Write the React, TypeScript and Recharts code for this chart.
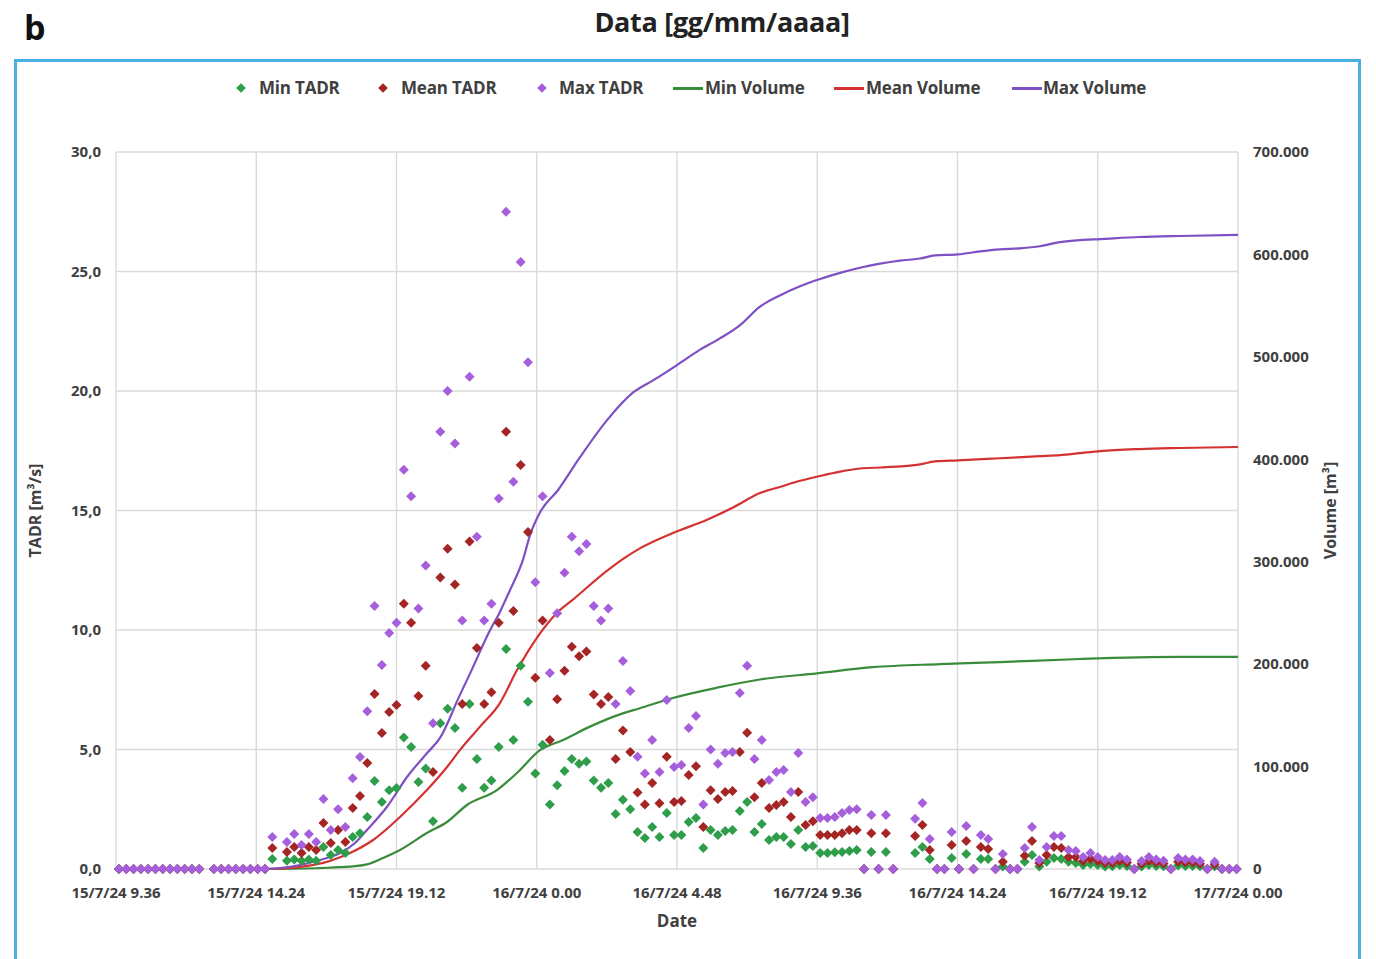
import React from 'react';
import { ComposedChart, Scatter, Line, XAxis, YAxis, CartesianGrid, Label } from 'recharts';

// Time of each TADR sample, hours after 15/7/24 9.36
const tadrTimes = [
  0.1, 0.35, 0.6, 0.85, 1.1, 1.35, 1.6, 1.85, 2.1, 2.35, 2.6, 2.85,
  3.35, 3.6, 3.85, 4.1, 4.35, 4.6, 4.85, 5.1,
  5.35,
  5.85, 6.1, 6.35, 6.6, 6.85, 7.1, 7.35, 7.6, 7.85,
  8.1, 8.35, 8.6, 8.85, 9.1, 9.35, 9.6, 9.85, 10.1, 10.35,
  10.6, 10.85, 11.1, 11.35, 11.6, 11.85, 12.1, 12.35, 12.6, 12.85,
  13.1, 13.35, 13.6, 13.85, 14.1, 14.35, 14.6, 14.85, 15.1, 15.35,
  15.6, 15.85, 16.1, 16.35, 16.6, 16.85, 17.1, 17.35, 17.6, 17.85,
  18.1, 18.35, 18.6, 18.85, 19.1, 19.35, 19.6, 19.85, 20.1, 20.35,
  20.6, 20.85, 21.1, 21.35, 21.6, 21.85, 22.1, 22.35, 22.6, 22.85,
  23.1, 23.35, 23.6, 23.85, 24.1, 24.35, 24.6, 24.85, 25.1, 25.35,
  25.6, 25.85, 26.1, 26.35, 26.6,
  27.35, 27.6, 27.85, 28.1, 28.35, 28.6, 28.85, 29.1, 29.35, 29.6,
  29.85, 30.1, 30.35, 30.6, 30.85, 31.1, 31.35, 31.6, 31.85, 32.1,
  32.35, 32.6, 32.85, 33.1, 33.35, 33.6, 33.85, 34.1, 34.35, 34.6,
  34.85, 35.1, 35.35, 35.6, 35.85, 36.1, 36.35, 36.6, 36.85, 37.1,
  37.35, 37.6, 37.85, 38.1, 38.35,
];

const maxTadr = [
  0, 0, 0, 0, 0, 0, 0, 0, 0, 0, 0, 0,
  0, 0, 0, 0, 0, 0, 0, 0,
  1.34,
  1.13, 1.46, 1.0, 1.46, 1.13, 2.93, 1.63, 2.5, 1.76,
  3.8, 4.69, 6.6, 11.0, 8.54, 9.87, 10.3, 16.7, 15.6, 10.9,
  12.7, 6.1, 18.3, 20.0, 17.8, 10.4, 20.6, 13.9, 10.4, 11.1,
  15.5, 27.5, 16.2, 25.4, 21.2, 12.0, 15.6, 8.2, 10.7, 12.4,
  13.9, 13.3, 13.6, 11.0, 10.4, 10.9, 6.9, 8.7, 7.45, 4.7,
  4.0, 5.4, 4.06, 7.07, 4.27, 4.35, 5.9, 6.4, 2.7, 5.0,
  4.4, 4.85, 4.9, 7.36, 8.5, 4.6, 5.4, 3.72, 4.06, 4.14,
  3.22, 4.85, 2.8, 3.0, 2.13, 2.13, 2.18, 2.34, 2.47, 2.5,
  0, 2.26, 0, 2.26, 0,
  2.1, 2.76, 1.26, 0, 0, 1.55, 0, 1.8, 0, 1.42,
  1.26, 0, 0.63, 0, 0, 0.88, 1.76, 0.38, 0.92, 1.38,
  1.38, 0.8, 0.75, 0.5, 0.67, 0.5, 0.38, 0.38, 0.5, 0.4,
  0, 0.33, 0.5, 0.4, 0.35, 0, 0.46, 0.4, 0.4, 0.33,
  0, 0.3, 0, 0, 0,
];

const meanTadr = [
  0, 0, 0, 0, 0, 0, 0, 0, 0, 0, 0, 0,
  0, 0, 0, 0, 0, 0, 0, 0,
  0.88,
  0.71, 0.92, 0.67, 0.92, 0.8, 1.92, 1.09, 1.63, 1.13,
  2.55, 3.05, 4.44, 7.32, 5.69, 6.57, 6.86, 11.1, 10.3, 7.24,
  8.5, 4.06, 12.2, 13.4, 11.9, 6.9, 13.7, 9.25, 6.9, 7.4,
  10.3, 18.3, 10.8, 16.9, 14.1, 8.0, 10.4, 5.4, 7.1, 8.3,
  9.3, 8.9, 9.1, 7.3, 6.9, 7.2, 4.6, 5.8, 4.9, 3.2,
  2.7, 3.6, 2.75, 4.7, 2.8, 2.85, 3.93, 4.3, 1.76, 3.3,
  2.93, 3.22, 3.26, 4.9, 5.7, 3.0, 3.6, 2.55, 2.68, 2.8,
  2.18, 3.22, 1.84, 2.0, 1.42, 1.42, 1.42, 1.5, 1.63, 1.63,
  0, 1.5, 0, 1.5, 0,
  1.38, 1.84, 0.8, 0, 0, 1.0, 0, 1.17, 0, 0.92,
  0.84, 0, 0.3, 0, 0, 0.55, 1.17, 0.25, 0.59, 0.92,
  0.88, 0.5, 0.5, 0.33, 0.42, 0.33, 0.25, 0.25, 0.33, 0.27,
  0, 0.22, 0.33, 0.27, 0.23, 0, 0.3, 0.27, 0.27, 0.22,
  0, 0.2, 0, 0, 0,
];

const minTadr = [
  0, 0, 0, 0, 0, 0, 0, 0, 0, 0, 0, 0,
  0, 0, 0, 0, 0, 0, 0, 0,
  0.42,
  0.35, 0.4, 0.35, 0.4, 0.35, 0.92, 0.59, 0.8, 0.67,
  1.34, 1.5, 2.18, 3.68, 2.8, 3.3, 3.39, 5.5, 5.1, 3.64,
  4.2, 2.0, 6.1, 6.7, 5.9, 3.4, 6.9, 4.6, 3.4, 3.7,
  5.1, 9.2, 5.4, 8.5, 7.0, 4.0, 5.2, 2.7, 3.5, 4.1,
  4.6, 4.4, 4.5, 3.7, 3.4, 3.6, 2.3, 2.9, 2.5, 1.55,
  1.3, 1.76, 1.34, 2.34, 1.42, 1.42, 1.97, 2.13, 0.88, 1.63,
  1.42, 1.59, 1.63, 2.43, 2.8, 1.55, 1.88, 1.21, 1.34, 1.34,
  1.05, 1.63, 0.92, 0.96, 0.67, 0.67, 0.7, 0.71, 0.75, 0.8,
  0, 0.71, 0, 0.71, 0,
  0.67, 0.92, 0.42, 0, 0, 0.46, 0, 0.63, 0, 0.42,
  0.42, 0, 0.1, 0, 0, 0.3, 0.59, 0.1, 0.3, 0.46,
  0.42, 0.3, 0.25, 0.17, 0.21, 0.17, 0.1, 0.12, 0.17, 0.13,
  0, 0.1, 0.17, 0.13, 0.12, 0, 0.15, 0.13, 0.13, 0.11,
  0, 0.1, 0, 0, 0,
];

// Cumulative volumes [m3]
const maxVolTimes = [5.0, 5.61, 6.3, 6.98, 7.67, 8.18, 8.59, 9.27, 9.96, 10.64, 11.09, 11.77, 12.12, 12.8, 13.14, 13.48, 13.93, 14.17, 14.51, 15.13, 15.88, 16.8, 17.69, 18.38, 19.2, 19.99, 20.67, 21.36, 22.04, 22.72, 23.41, 23.99, 24.78, 25.46, 26.15, 26.83, 27.52, 28.03, 28.82, 29.57, 30.25, 30.94, 31.62, 32.31, 32.99, 33.68, 35.04, 36.41, 38.4];
const maxVolume = [0, 1000, 3900, 8800, 15600, 25400, 38100, 60500, 89800, 113000, 128000, 170000, 191000, 233000, 251000, 272000, 302000, 326000, 348000, 370000, 402000, 438000, 465000, 477000, 492000, 507000, 518000, 531000, 549000, 560000, 569000, 575000, 582000, 587000, 591000, 594000, 596000, 599000, 600000, 603000, 605000, 606000, 608000, 612000, 614000, 615000, 617000, 618000, 619000];

const meanVolTimes = [5.27, 6.3, 7.32, 8.01, 8.8, 9.72, 10.64, 11.33, 11.77, 12.46, 13.14, 13.72, 14.41, 15.09, 15.64, 16.8, 17.32, 17.93, 19.06, 20.23, 21.12, 22.04, 22.72, 23.41, 23.99, 24.78, 25.46, 26.15, 26.83, 27.52, 28.03, 28.82, 30.25, 31.62, 32.31, 32.99, 33.68, 35.04, 36.41, 38.4];
const meanVolume = [0, 2000, 7800, 15600, 28300, 50800, 77100, 99600, 116000, 139000, 162000, 194000, 226000, 250000, 263000, 291000, 302000, 313000, 328000, 341000, 353000, 367000, 373000, 379000, 383000, 388000, 391000, 392000, 393000, 395000, 398000, 399000, 401000, 403000, 404000, 406000, 408000, 410000, 411000, 412000];

const minVolTimes = [5.27, 6.98, 8.0, 8.59, 9.14, 9.72, 10.64, 11.33, 12.01, 13.04, 13.72, 14.51, 15.3, 16.22, 17.15, 17.93, 19.06, 20.57, 22.04, 23.99, 25.91, 28.2, 30.25, 32.99, 36.41, 38.4];
const minVolume = [0, 1000, 2300, 4500, 10700, 18500, 35100, 45900, 62500, 77100, 93700, 116000, 126000, 139000, 150000, 157000, 167000, 177000, 185000, 191000, 197000, 200000, 202000, 205000, 207000, 207000];

const xTicks = [0, 4.8, 9.6, 14.4, 19.2, 24, 28.8, 33.6, 38.4];
const xTickLabels = ['15/7/24 9.36', '15/7/24 14.24', '15/7/24 19.12', '16/7/24 0.00', '16/7/24 4.48', '16/7/24 9.36', '16/7/24 14.24', '16/7/24 19.12', '17/7/24 0.00'];
const leftTicks = [0, 5, 10, 15, 20, 25, 30];
const rightTicks = [0, 100000, 200000, 300000, 400000, 500000, 600000, 700000];

const C = {
  minPt: '#2E9E4A',
  meanPt: '#A52424',
  maxPt: '#A65FDC',
  minLn: '#3A8C3A',
  meanLn: '#D43232',
  maxLn: '#7D50C4',
  text: '#404040',
  grid: '#DADADA',
};

const FONT = '"Open Sans", "DejaVu Sans", sans-serif';

const toPoints = (ts: number[], vs: number[]) => ts.map((t, i) => ({ t, v: vs[i] }));

const makeDiamond = (color: string) => (props: any) => {
  const { cx, cy } = props;
  if (cx == null || cy == null) return null;
  const r = 5;
  return <path d={`M${cx},${cy - r}L${cx + r},${cy}L${cx},${cy + r}L${cx - r},${cy}Z`} fill={color} />;
};

const legendItems = [
  { label: 'Min TADR', color: C.minPt, kind: 'diamond' },
  { label: 'Mean TADR', color: C.meanPt, kind: 'diamond' },
  { label: 'Max TADR', color: C.maxPt, kind: 'diamond' },
  { label: 'Min Volume', color: C.minLn, kind: 'line' },
  { label: 'Mean Volume', color: C.meanLn, kind: 'line' },
  { label: 'Max Volume', color: C.maxLn, kind: 'line' },
];
const legendMarkerX = [236, 378, 537, 673, 834, 1012];
const legendTextX = [259, 401, 559, 705, 866, 1043];

function ChartLegend() {
  const cy = 88;
  return (
    <>
      {legendItems.map((it, i) => (
        <React.Fragment key={it.label}>
          {it.kind === 'diamond' ? (
            <div style={{ position: 'absolute', left: legendMarkerX[i] + 1, top: cy - 4, width: 8, height: 8, background: it.color, transform: 'rotate(45deg) scale(0.85)' }} />
          ) : (
            <div style={{ position: 'absolute', left: legendMarkerX[i], top: cy - 1.5, width: 30, height: 3, background: it.color }} />
          )}
          <div style={{ position: 'absolute', left: legendTextX[i], top: cy - 12, lineHeight: '24px', fontSize: 17, fontWeight: 700, color: C.text, whiteSpace: 'nowrap', letterSpacing: -0.2 }}>
            {it.label}
          </div>
        </React.Fragment>
      ))}
    </>
  );
}

export default function App() {
  const minData = toPoints(tadrTimes, minTadr);
  const meanData = toPoints(tadrTimes, meanTadr);
  const maxData = toPoints(tadrTimes, maxTadr);
  const minVolData = toPoints(minVolTimes, minVolume);
  const meanVolData = toPoints(meanVolTimes, meanVolume);
  const maxVolData = toPoints(maxVolTimes, maxVolume);

  const tickStyle = { fill: C.text, fontSize: 15, fontWeight: 700, fontFamily: FONT };

  return (
    <div style={{ position: 'absolute', left: 0, top: 0, width: 1376, height: 959, background: '#fff', overflow: 'hidden', fontFamily: FONT }}>
      <div style={{ position: 'absolute', left: 24, top: 7, fontSize: 34, lineHeight: '40px', fontWeight: 700, color: '#111' }}>b</div>
      <div style={{ position: 'absolute', left: 472, width: 500, top: 6, textAlign: 'center', fontSize: 27, lineHeight: '32px', fontWeight: 700, color: '#222', letterSpacing: -0.3 }}>
        Data [gg/mm/aaaa]
      </div>
      <div style={{ position: 'absolute', left: 14, top: 59, width: 1347, height: 940, border: '3px solid #4AB0E2', boxSizing: 'border-box' }} />
      <ChartLegend />
      <div style={{ position: 'absolute', left: 0, top: 0 }}>
        <ComposedChart width={1376} height={959} margin={{ top: 152, right: 38, bottom: 20, left: 0 }}>
          <CartesianGrid yAxisId="left" stroke={C.grid} strokeWidth={1.4} />
          <XAxis
            dataKey="t"
            type="number"
            domain={[0, 38.4]}
            ticks={xTicks}
            interval={0}
            tickFormatter={(v: number) => xTickLabels[Math.round(v / 4.8)]}
            axisLine={false}
            tickLine={false}
            tickMargin={12}
            tick={tickStyle}
            height={70}
          >
            <Label value="Date" position="insideBottom" offset={12} style={{ fill: C.text, fontSize: 17, fontWeight: 700, fontFamily: FONT }} />
          </XAxis>
          <YAxis
            yAxisId="left"
            type="number"
            domain={[0, 30]}
            ticks={leftTicks}
            interval={0}
            tickFormatter={(v: number) => v.toFixed(1).replace('.', ',')}
            axisLine={false}
            tickLine={false}
            tickMargin={9}
            tick={tickStyle}
            width={116}
          >
            <Label value="TADR [m³/s]" angle={-90} position="insideLeft" offset={35} style={{ textAnchor: 'middle', fill: C.text, fontSize: 16, fontWeight: 700, fontFamily: FONT }} />
          </YAxis>
          <YAxis
            yAxisId="right"
            orientation="right"
            type="number"
            domain={[0, 700000]}
            ticks={rightTicks}
            interval={0}
            tickFormatter={(v: number) => (v === 0 ? '0' : `${v / 1000}.000`)}
            axisLine={false}
            tickLine={false}
            tickMargin={9}
            tick={tickStyle}
            width={100}
          >
            <Label value="Volume [m³]" angle={-90} position="insideRight" offset={8} style={{ textAnchor: 'middle', fill: C.text, fontSize: 16, fontWeight: 700, fontFamily: FONT }} />
          </YAxis>

          <Scatter name="Min TADR" data={minData} dataKey="v" yAxisId="left" shape={makeDiamond(C.minPt)} isAnimationActive={false} />
          <Scatter name="Mean TADR" data={meanData} dataKey="v" yAxisId="left" shape={makeDiamond(C.meanPt)} isAnimationActive={false} />
          <Scatter name="Max TADR" data={maxData} dataKey="v" yAxisId="left" shape={makeDiamond(C.maxPt)} isAnimationActive={false} />

          <Line name="Min Volume" data={minVolData} dataKey="v" yAxisId="right" type="monotone" stroke={C.minLn} strokeWidth={2.2} dot={false} activeDot={false} isAnimationActive={false} />
          <Line name="Mean Volume" data={meanVolData} dataKey="v" yAxisId="right" type="monotone" stroke={C.meanLn} strokeWidth={2.2} dot={false} activeDot={false} isAnimationActive={false} />
          <Line name="Max Volume" data={maxVolData} dataKey="v" yAxisId="right" type="monotone" stroke={C.maxLn} strokeWidth={2.2} dot={false} activeDot={false} isAnimationActive={false} />
        </ComposedChart>
      </div>
    </div>
  );
}
